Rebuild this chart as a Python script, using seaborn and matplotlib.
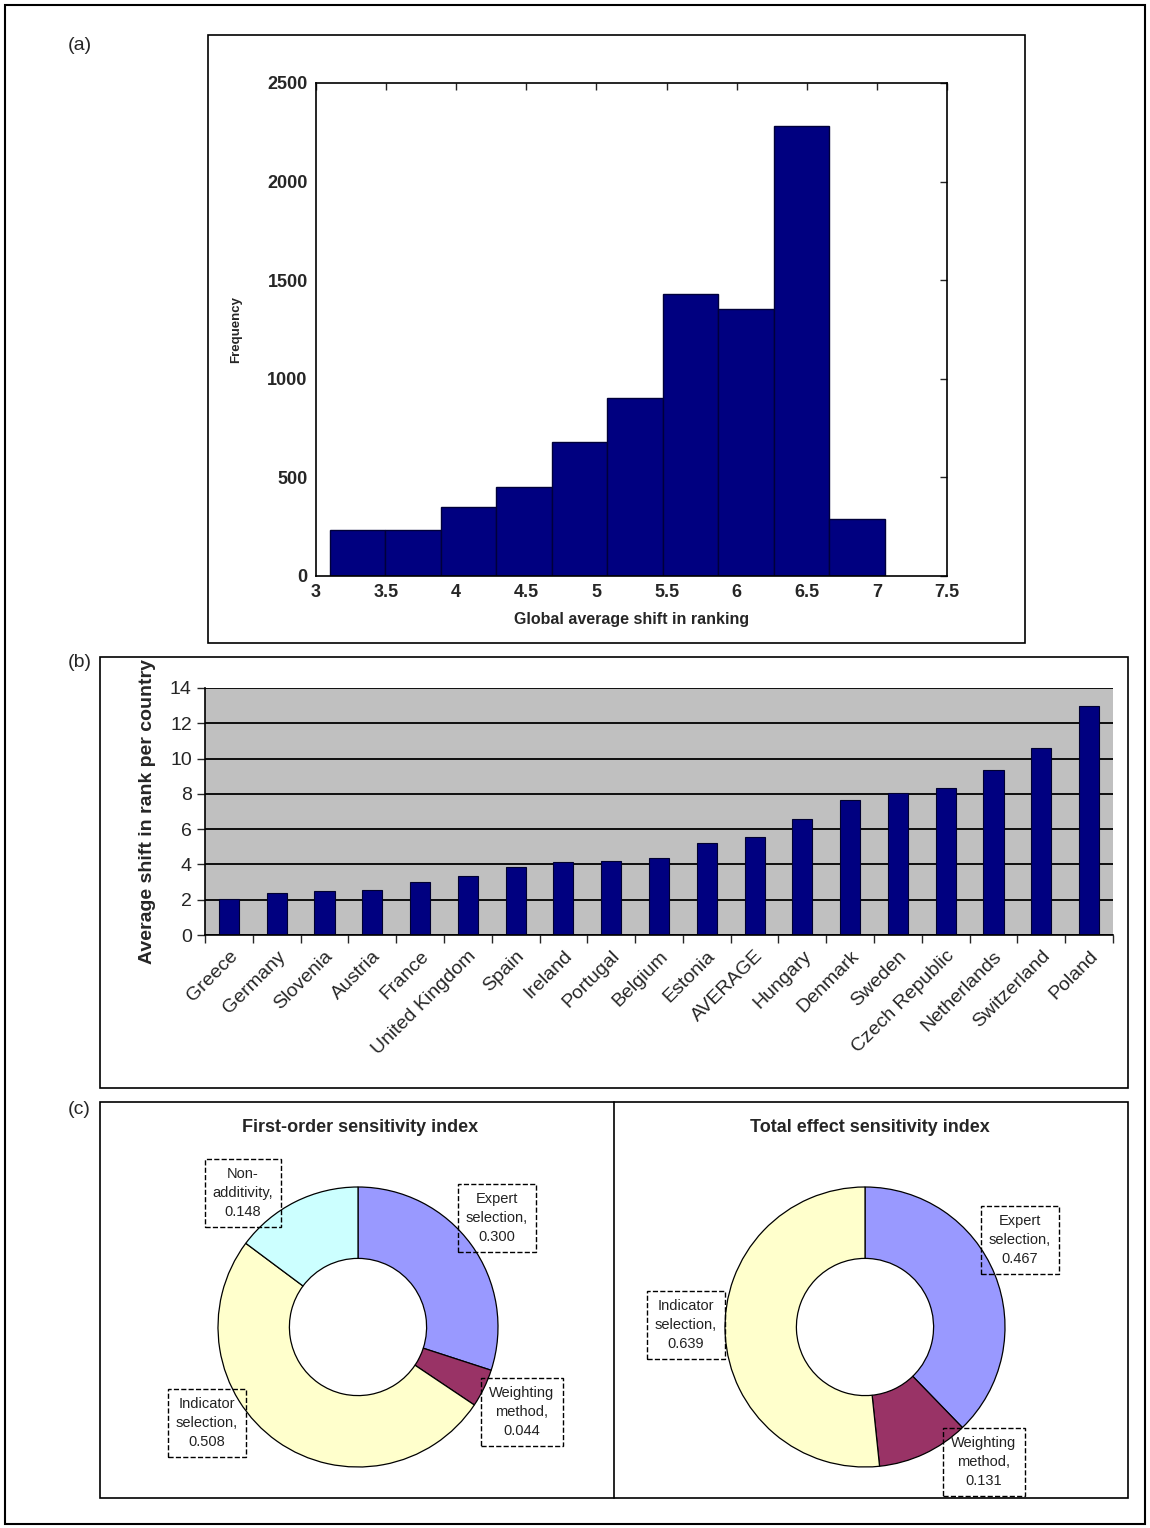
import numpy as np
import pandas as pd
import matplotlib
matplotlib.use("Agg")
import matplotlib.pyplot as plt
from matplotlib.patches import Rectangle
from matplotlib.lines import Line2D
import seaborn as sns

# (a) histogram of global average shift in ranking
hist_counts = [232, 232, 349, 450, 681, 904, 1432, 1352, 2282, 287]
hist_lo, hist_hi = 3.10, 7.055

# (b) average shift in rank per country
countries = ["Greece", "Germany", "Slovenia", "Austria", "France", "United Kingdom",
             "Spain", "Ireland", "Portugal", "Belgium", "Estonia", "AVERAGE", "Hungary",
             "Denmark", "Sweden", "Czech Republic", "Netherlands", "Switzerland", "Poland"]
shifts = [2.03, 2.37, 2.47, 2.56, 3.0, 3.35, 3.87, 4.16, 4.22, 4.37, 5.24, 5.58,
          6.55, 7.68, 8.03, 8.32, 9.37, 10.6, 12.97]

# (c) sensitivity indices
first_labels = ["Expert\nselection,\n0.300", "Weighting\nmethod,\n0.044",
                "Indicator\nselection,\n0.508", "Non-\nadditivity,\n0.148"]
first_values = [0.300, 0.044, 0.508, 0.148]
first_colors = ["#9999FF", "#993366", "#FFFFCC", "#CCFFFF"]
total_labels = ["Expert\nselection,\n0.467", "Weighting\nmethod,\n0.131",
                "Indicator\nselection,\n0.639"]
total_values = [0.467, 0.131, 0.639]
total_colors = ["#9999FF", "#993366", "#FFFFCC"]

sns.set_style("white")
plt.rcParams['font.family'] = ['Liberation Sans', 'DejaVu Sans']

W, H = 1150, 1528
fig = plt.figure(figsize=(W / 100, H / 100), dpi=100)
fig.patch.set_facecolor("white")


def rect(x0, y0, x1, y1):
    return [x0 / W, 1 - y1 / H, (x1 - x0) / W, (y1 - y0) / H]


def frame(x0, y0, x1, y1, lw=1.2):
    fig.add_artist(Rectangle((x0 / W, 1 - y1 / H), (x1 - x0) / W, (y1 - y0) / H,
                             transform=fig.transFigure, fill=False, ec="black", lw=lw))


def ftext(x, y, s, **kw):
    fig.text(x / W, 1 - y / H, s, **kw)


# outer and panel frames
frame(5, 5, 1145, 1524, lw=1.5)
frame(208, 35, 1025, 643)
frame(100, 657, 1128, 1088)
frame(100, 1102, 1128, 1498)
fig.add_artist(Line2D([614 / W, 614 / W], [1 - 1102 / H, 1 - 1498 / H],
                      transform=fig.transFigure, color="black", lw=1.2))

ftext(68, 45, "(a)", fontsize=14, va="center")
ftext(68, 663, "(b)", fontsize=14, va="center")
ftext(68, 1110, "(c)", fontsize=14, va="center")

# ---- panel (a)
ax1 = fig.add_axes(rect(316, 83, 947, 576))
nbins = len(hist_counts)
bw = (hist_hi - hist_lo) / nbins
hist_df = pd.DataFrame({"shift": hist_lo + bw * (np.arange(nbins) + 0.5),
                        "count": hist_counts})
sns.histplot(data=hist_df, x="shift", weights="count", bins=nbins,
             binrange=(hist_lo, hist_hi), color="#000080",
             edgecolor="#00003a", linewidth=1, alpha=1, ax=ax1)
ax1.set_xlim(3, 7.5)
ax1.set_ylim(0, 2500)
ax1.set_xticks(np.arange(3, 7.51, 0.5))
ax1.set_xticklabels(["3", "3.5", "4", "4.5", "5", "5.5", "6", "6.5", "7", "7.5"])
ax1.set_yticks(range(0, 2501, 500))
ax1.tick_params(direction="in", top=True, right=True, length=5, width=1,
                labelsize=13, pad=6)
for lab in ax1.get_xticklabels() + ax1.get_yticklabels():
    lab.set_fontweight("bold")
for sp in ax1.spines.values():
    sp.set_color("black")
    sp.set_linewidth(1.2)
ax1.set_xlabel("Global average shift in ranking", fontsize=11.5, fontweight="bold", labelpad=8)
ax1.set_ylabel("Frequency", fontsize=9.5, fontweight="bold", labelpad=18)

# ---- panel (b)
ax2 = fig.add_axes(rect(205, 688, 1113, 935))
ax2.set_facecolor("#C0C0C0")
sns.barplot(x=countries, y=shifts, color="#000080", saturation=1, width=0.42,
            edgecolor="#000030", linewidth=0.8, ax=ax2)
ax2.set_ylim(0, 14)
ax2.set_xlim(-0.5, len(countries) - 0.5)
ax2.set_yticks(range(0, 15, 2))
ax2.set_axisbelow(True)
ax2.yaxis.grid(True, color="black", linewidth=1.3)
ax2.xaxis.grid(False)
for s in ["top", "right"]:
    ax2.spines[s].set_visible(False)
for s in ["left", "bottom"]:
    ax2.spines[s].set_color("black")
    ax2.spines[s].set_linewidth(1.2)
ax2.set_xticks(np.arange(-0.5, len(countries), 1.0), minor=True)
ax2.tick_params(axis="x", which="minor", direction="out", length=6, width=1, bottom=True)
ax2.tick_params(axis="x", which="major", length=0, pad=9, labelsize=14)
ax2.tick_params(axis="y", direction="out", length=6, width=1, left=True, labelsize=14)
plt.setp(ax2.get_xticklabels(), rotation=45, ha="right", rotation_mode="anchor")
ax2.set_xlabel("")
ax2.set_ylabel("Average shift in rank per country", fontsize=14, fontweight="bold", labelpad=10)

# ---- panel (c)
def donut(box, values, colors, labels, title, title_xy, label_xy):
    ax = fig.add_axes(box)
    ax.pie(values, colors=colors, startangle=90, counterclock=False, radius=1,
           wedgeprops=dict(width=0.51, edgecolor="black", linewidth=0.9))
    ax.set_xlim(-1, 1)
    ax.set_ylim(-1, 1)
    ax.set_aspect("equal")
    ax.axis("off")
    ftext(*title_xy, title, fontsize=13, fontweight="bold", ha="center", va="center")
    for lab, (lx, ly) in zip(labels, label_xy):
        ftext(lx, ly, lab, fontsize=10.5, ha="center", va="center", linespacing=1.45,
              color="#222222",
              bbox=dict(boxstyle="square,pad=0.55", fc="none", ec="black", ls="--", lw=1))


donut(rect(218, 1187, 498, 1467), first_values, first_colors, first_labels,
      "First-order sensitivity index", (360, 1127),
      [(497, 1218), (522, 1412), (207, 1423), (243, 1193)])
donut(rect(725, 1187, 1005, 1467), total_values, total_colors, total_labels,
      "Total effect sensitivity index", (870, 1127),
      [(1020, 1240), (984, 1462), (686, 1325)])

fig.savefig("out.png", dpi=100, facecolor="white")
